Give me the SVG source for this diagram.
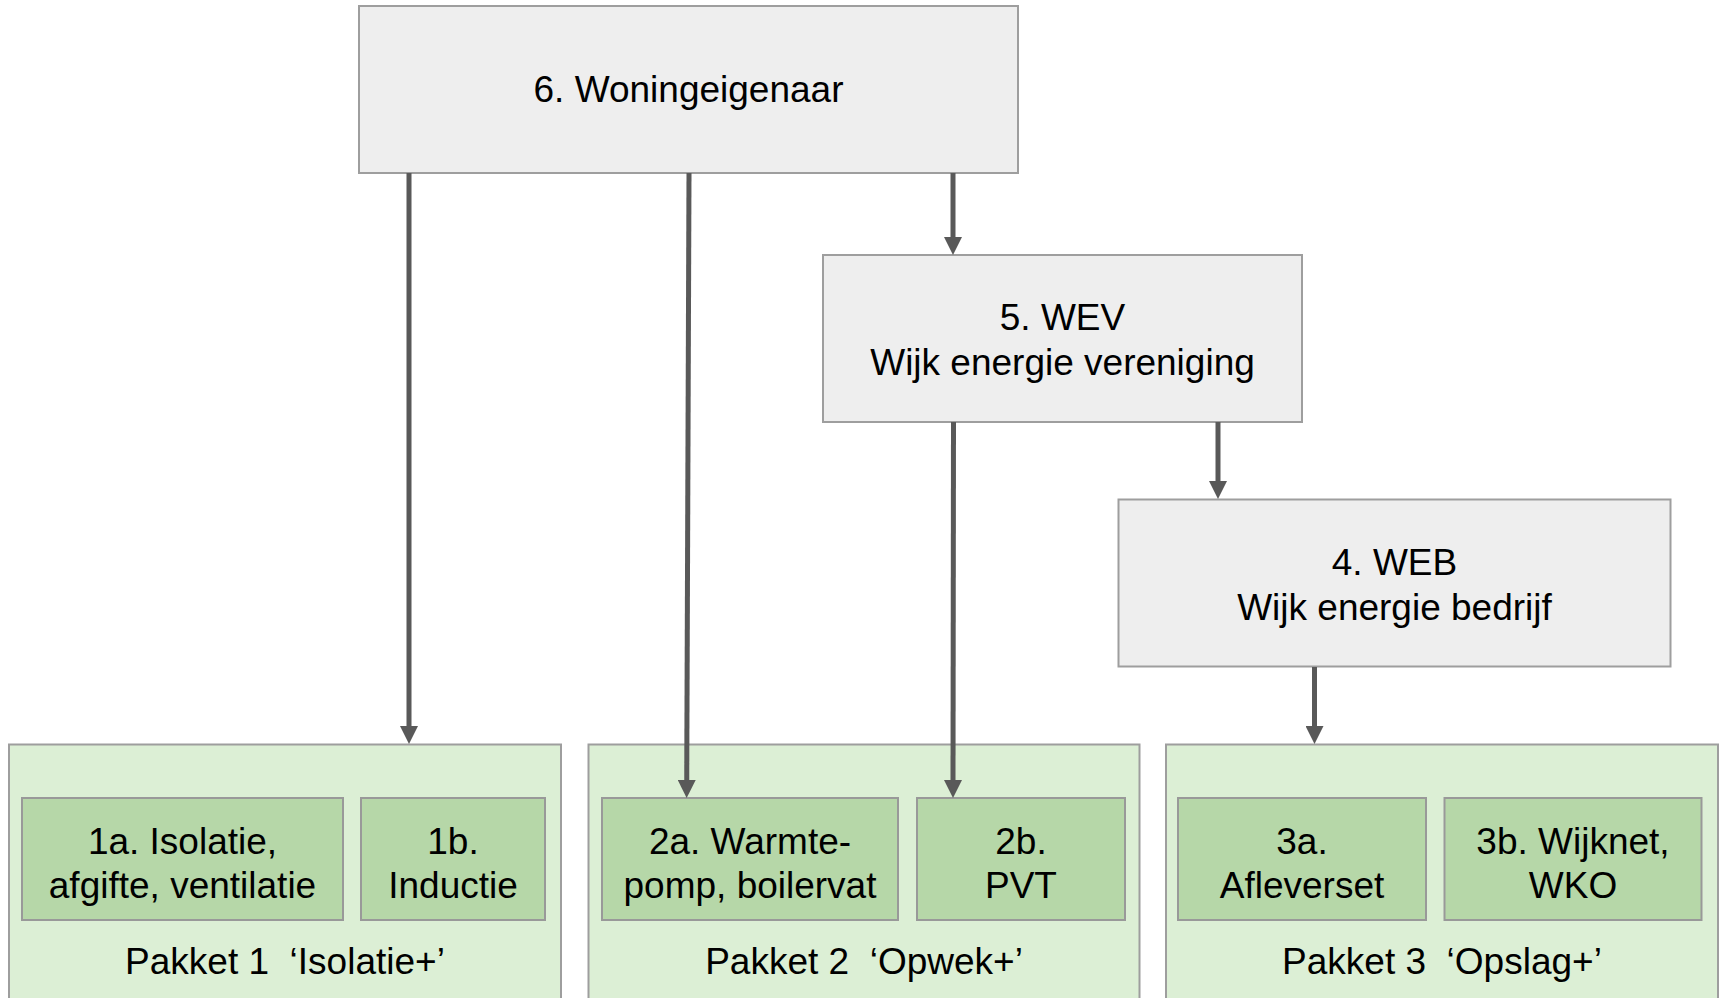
<svg xmlns="http://www.w3.org/2000/svg" width="1721" height="998" viewBox="0 0 1721 998">
  <style>
    .gray { fill: #eeeeee; stroke: #9e9e9e; stroke-width: 2; }
    .pak { fill: #dcefd5; stroke: #9e9e9e; stroke-width: 2; }
    .inner { fill: #b6d7a8; stroke: #999999; stroke-width: 2; }
    text { font-family: "Liberation Sans", Arial, sans-serif; font-size: 37px; fill: #000000; text-anchor: middle; white-space: pre; }
    .conn { stroke: #595959; stroke-width: 5; fill: none; }
  </style>
  <defs>
    <marker id="arr" viewBox="0 0 18 18" refX="6" refY="9" markerWidth="18" markerHeight="18" markerUnits="userSpaceOnUse" orient="auto">
      <path d="M0,0 L18,9 L0,18 z" fill="#595959"/>
    </marker>
  </defs>
  <rect width="1721" height="998" fill="#ffffff"/>

  <g id="node6">
    <rect class="gray" x="359" y="6" width="659" height="167"/>
    <text x="688.5" y="102">6. Woningeigenaar</text>
  </g>
  <g id="node5">
    <rect class="gray" x="823" y="255" width="479" height="167"/>
    <text x="1062.5" y="330">5. WEV</text>
    <text x="1062.5" y="375">Wijk energie vereniging</text>
  </g>
  <g id="node4">
    <rect class="gray" x="1118.5" y="499.5" width="552" height="167"/>
    <text x="1394.5" y="575">4. WEB</text>
    <text x="1394.5" y="620">Wijk energie bedrijf</text>
  </g>

  <g id="pakket1">
    <rect class="pak" x="9" y="744.5" width="552" height="270"/>
    <text x="285" y="974" xml:space="preserve">Pakket 1  ‘Isolatie+’</text>
  </g>
  <g id="node1a">
    <rect class="inner" x="22" y="798" width="321" height="122"/>
    <text x="182.5" y="854">1a. Isolatie,</text>
    <text x="182.5" y="898">afgifte, ventilatie</text>
  </g>
  <g id="node1b">
    <rect class="inner" x="361" y="798" width="184" height="122"/>
    <text x="453" y="854">1b.</text>
    <text x="453" y="898">Inductie</text>
  </g>

  <g id="pakket2">
    <rect class="pak" x="588.5" y="744.5" width="551" height="270"/>
    <text x="864" y="974" xml:space="preserve">Pakket 2  ‘Opwek+’</text>
  </g>
  <g id="node2a">
    <rect class="inner" x="602" y="798" width="296" height="122"/>
    <text x="750" y="854">2a. Warmte-</text>
    <text x="750" y="898">pomp, boilervat</text>
  </g>
  <g id="node2b">
    <rect class="inner" x="917" y="798" width="208" height="122"/>
    <text x="1021" y="854">2b.</text>
    <text x="1021" y="898">PVT</text>
  </g>

  <g id="pakket3">
    <rect class="pak" x="1166" y="744.5" width="552" height="270"/>
    <text x="1442" y="974" xml:space="preserve">Pakket 3  ‘Opslag+’</text>
  </g>
  <g id="node3a">
    <rect class="inner" x="1178" y="798" width="248" height="122"/>
    <text x="1302" y="854">3a.</text>
    <text x="1302" y="898">Afleverset</text>
  </g>
  <g id="node3b">
    <rect class="inner" x="1444.5" y="798" width="257" height="122"/>
    <text x="1573" y="854">3b. Wijknet,</text>
    <text x="1573" y="898">WKO</text>
  </g>

  <g id="connectors">
    <line class="conn" x1="409" y1="173" x2="409" y2="732" marker-end="url(#arr)"/>
    <line class="conn" x1="689" y1="173" x2="686.7" y2="786" marker-end="url(#arr)"/>
    <line class="conn" x1="953" y1="173" x2="953" y2="243" marker-end="url(#arr)"/>
    <line class="conn" x1="953.5" y1="422" x2="953" y2="786" marker-end="url(#arr)"/>
    <line class="conn" x1="1218" y1="422" x2="1218" y2="487" marker-end="url(#arr)"/>
    <line class="conn" x1="1314.5" y1="667" x2="1314.5" y2="732" marker-end="url(#arr)"/>
  </g>
</svg>
